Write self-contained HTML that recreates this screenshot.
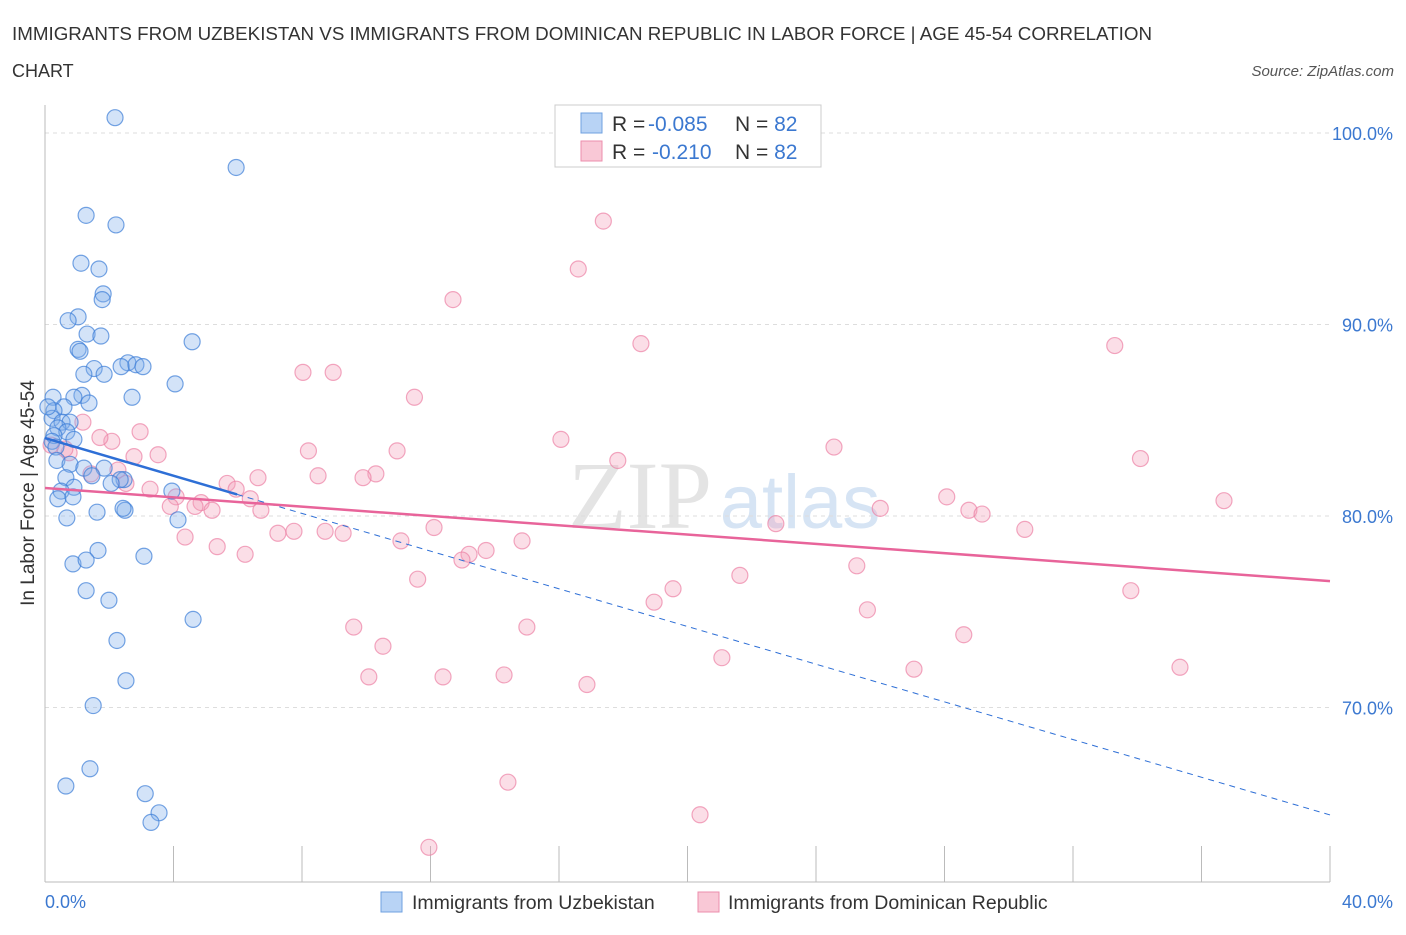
<!DOCTYPE html>
<html><head><meta charset="utf-8"><style>
body{margin:0;background:#fff;font-family:"Liberation Sans",sans-serif}
</style></head><body>
<svg width="1406" height="930" xmlns="http://www.w3.org/2000/svg" style="font-family:'Liberation Sans',sans-serif">
<text x="12" y="40" font-size="18" fill="#333" textLength="1140" lengthAdjust="spacingAndGlyphs">IMMIGRANTS FROM UZBEKISTAN VS IMMIGRANTS FROM DOMINICAN REPUBLIC IN LABOR FORCE | AGE 45-54 CORRELATION</text>
<text x="12" y="77" font-size="18" fill="#333">CHART</text>
<text x="1394" y="76" font-size="15" fill="#555" font-style="italic" text-anchor="end">Source: ZipAtlas.com</text>
<text x="640" y="528" font-size="96" fill="#e4e4e4" font-family="Liberation Serif,serif" text-anchor="middle">ZIP</text>
<text x="800" y="528" font-size="76" fill="#d6e4f4" text-anchor="middle">atlas</text>
<g id="grid"></g>
<g id="axes"></g>
<g id="points"></g>
<g id="trends"></g>
<text transform="translate(34,493) rotate(-90)" font-size="19" fill="#333" text-anchor="middle">In Labor Force | Age 45-54</text>
<text x="45" y="908" font-size="18" fill="#3b78d0">0.0%</text>
<text x="1393" y="908" font-size="18" fill="#3b78d0" text-anchor="end">40.0%</text>
<g>
<rect x="555" y="105" width="266" height="62" fill="#fff" stroke="#ccc"/>
<rect x="581" y="113" width="21" height="20" fill="#b8d3f5" stroke="#6fa0e0"/>
<rect x="581" y="141" width="21" height="20" fill="#f9c8d6" stroke="#ec8eac"/>
<text x="612" y="131" font-size="21" fill="#333">R = <tspan fill="#3b78d0" x="648">-0.085</tspan><tspan x="735">N = </tspan><tspan fill="#3b78d0">82</tspan></text>
<text x="612" y="159" font-size="21" fill="#333">R = <tspan fill="#3b78d0" x="652">-0.210</tspan><tspan x="735">N = </tspan><tspan fill="#3b78d0">82</tspan></text>
</g>
<g>
<rect x="381" y="892" width="21" height="20" fill="#b8d3f5" stroke="#6fa0e0"/>
<text x="412" y="909" font-size="19.5" fill="#333">Immigrants from Uzbekistan</text>
<rect x="698" y="892" width="21" height="20" fill="#f9c8d6" stroke="#ec8eac"/>
<text x="728" y="909" font-size="19.5" fill="#333">Immigrants from Dominican Republic</text>
</g>
</svg>
<script>
const yTicks=[100,90,80,70];
const yTickLabels=["100.0%","90.0%","80.0%","70.0%"];
const xTicks=[0,4,8,12,16,20,24,28,32,36,40];
const blueX=[2.18,5.95,1.28,2.21,1.12,1.68,1.81,1.78,1.03,0.72,1.31,1.74,4.58,1.03,1.09,2.58,1.53,2.37,2.83,3.05,1.21,1.84,4.05,1.15,0.9,2.71,0.25,1.37,0.59,0.28,0.22,0.53,0.78,0.4,0.68,0.28,0.9,0.22,0.34,0.37,0.78,1.21,1.84,1.46,0.65,2.46,2.34,2.06,0.9,0.5,3.95,0.4,0.87,4.14,1.62,2.49,2.43,0.68,1.65,3.08,0.87,1.28,1.28,1.99,4.61,2.24,2.52,1.5,1.4,0.65,3.12,3.55,3.3,0.09];
const blueY=[100.8,98.2,95.7,95.2,93.2,92.9,91.6,91.3,90.4,90.2,89.5,89.4,89.1,88.7,88.6,88.0,87.7,87.8,87.9,87.8,87.4,87.4,86.9,86.3,86.2,86.2,86.2,85.9,85.7,85.5,85.1,84.9,84.9,84.6,84.4,84.2,84.0,83.9,83.6,82.9,82.7,82.5,82.5,82.1,82.0,81.9,81.9,81.7,81.5,81.3,81.3,80.9,81.0,79.8,80.2,80.3,80.4,79.9,78.2,77.9,77.5,77.7,76.1,75.6,74.6,73.5,71.4,70.1,66.8,65.9,65.5,64.5,64.0,85.7];
const pinkX=[17.38,16.6,12.7,18.55,33.3,8.03,8.97,11.5,16.06,10.96,8.2,24.56,17.83,34.1,1.18,2.96,2.08,1.71,2.77,3.52,0.75,0.62,0.19,1.43,2.27,2.52,6.63,8.5,10.3,9.9,3.27,4.08,5.67,5.95,6.39,3.9,4.86,4.67,5.2,6.72,28.07,36.7,26.0,28.76,29.17,22.75,4.36,5.36,6.23,7.25,7.75,8.72,9.28,11.08,12.11,14.85,13.2,12.98,13.73,30.5,25.27,21.63,11.6,19.55,18.96,33.8,25.6,9.61,15.0,28.6,10.52,21.07,27.05,35.33,10.08,12.39,14.29,16.87,14.41,20.39,11.95];
const pinkY=[95.4,92.9,91.3,89.0,88.9,87.5,87.5,86.2,84.0,83.4,83.4,83.6,82.9,83.0,84.9,84.4,83.9,84.1,83.1,83.2,83.3,83.5,83.7,82.2,82.4,81.7,82.0,82.1,82.2,82.0,81.4,81.0,81.7,81.4,80.9,80.5,80.7,80.5,80.3,80.3,81.0,80.8,80.4,80.3,80.1,79.6,78.9,78.4,78.0,79.1,79.2,79.2,79.1,78.7,79.4,78.7,78.0,77.7,78.2,79.3,77.4,76.9,76.7,76.2,75.5,76.1,75.1,74.2,74.2,73.8,73.2,72.6,72.0,72.1,71.6,71.6,71.7,71.2,66.1,64.4,62.7];
const blueTrend=[84.07,64.39];
const pinkTrend=[81.46,76.6];
const blueSolidEnd=5.98;
const NS="http://www.w3.org/2000/svg";
const sx=v=>45+v*(1285/40);
const sy=v=>133+(100-v)*19.15;
function mk(t,a,p){const e=document.createElementNS(NS,t);for(const k in a)e.setAttribute(k,a[k]);p.appendChild(e);return e;}
const grid=document.getElementById('grid'),axes=document.getElementById('axes'),pts=document.getElementById('points'),tr=document.getElementById('trends');
yTicks.forEach((v,i)=>{
 const l=mk('line',{x1:45,x2:1330,y1:sy(v),y2:sy(v),stroke:'#ddd','stroke-dasharray':'4,4'},grid);
 
 
 const t=mk('text',{x:1393,y:sy(v)+7,'font-size':18,fill:'#3b78d0','text-anchor':'end'},grid);
 t.textContent=yTickLabels[i];
 
 
});
const ya=mk('line',{x1:45,x2:45,y1:105,y2:882,stroke:'#bbb'},axes);


const xa=mk('line',{x1:45,x2:1330,y1:882,y2:882,stroke:'#bbb'},axes);


xTicks.forEach(v=>{
 const t=mk('line',{x1:sx(v),x2:sx(v),y1:846,y2:882,stroke:'#bbb'},axes);
 
 
});
pinkX.forEach((x,i)=>{
 const c=mk('circle',{cx:sx(x),cy:sy(pinkY[i]),r:8,fill:'rgba(244,160,186,0.35)',stroke:'rgba(236,130,165,0.7)','stroke-width':1.2},pts);
 
 
});
blueX.forEach((x,i)=>{
 const c=mk('circle',{cx:sx(x),cy:sy(blueY[i]),r:8,fill:'rgba(130,175,235,0.35)',stroke:'rgba(60,125,215,0.7)','stroke-width':1.2},pts);
 
 
});
const by=x=>blueTrend[0]+(blueTrend[1]-blueTrend[0])*x/40;
const bs=mk('line',{x1:sx(0),y1:sy(by(0)),x2:sx(blueSolidEnd),y2:sy(by(blueSolidEnd)),stroke:'#2e6fd6','stroke-width':2.5},tr);


const bd=mk('line',{x1:sx(blueSolidEnd),y1:sy(by(blueSolidEnd)),x2:sx(40),y2:sy(by(40)),stroke:'#2e6fd6','stroke-width':1,'stroke-dasharray':'6,5'},tr);


const pl=mk('line',{x1:sx(0),y1:sy(pinkTrend[0]),x2:sx(40),y2:sy(pinkTrend[1]),stroke:'#e8649a','stroke-width':2.5},tr);


</script>
</body></html>
